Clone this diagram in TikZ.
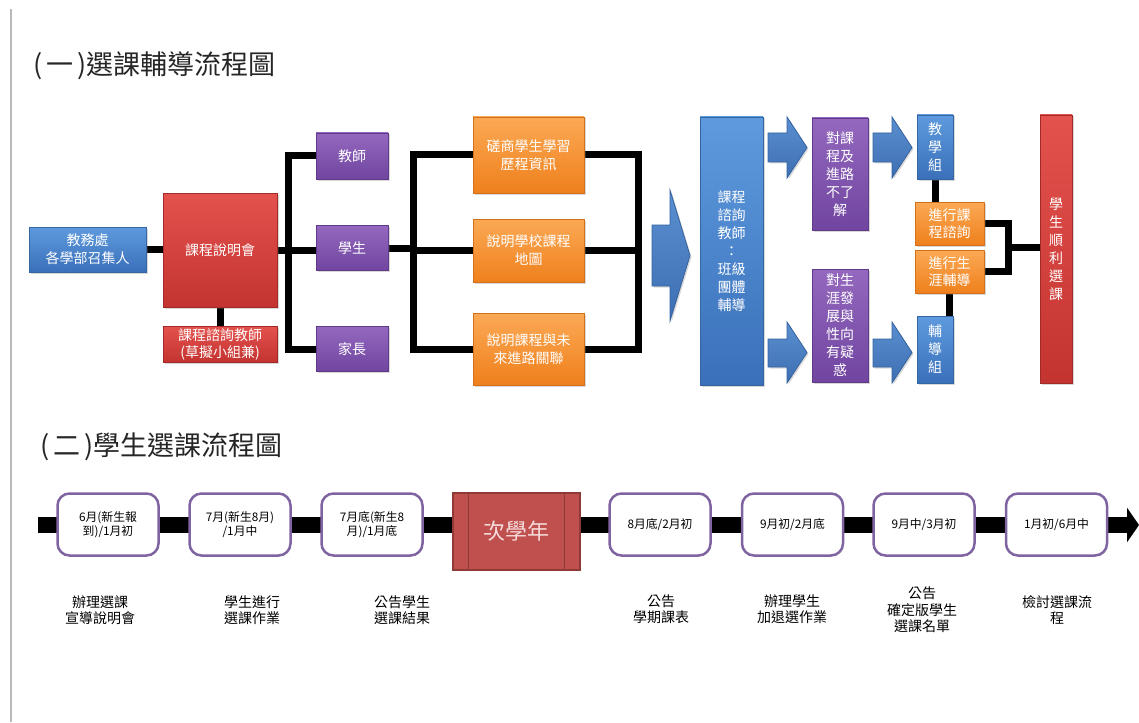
\documentclass[tikz,border=0pt]{standalone}
\usepackage{fontspec}
\setmainfont{Noto Sans CJK TC}
\usetikzlibrary{shadows,backgrounds,arrows.meta,calc}

\definecolor{blueT}{HTML}{5E9ADD}
\definecolor{blueD}{HTML}{3A70BA}
\definecolor{blueB}{HTML}{3566A4}
\definecolor{redT}{HTML}{E4524E}
\definecolor{redD}{HTML}{C3332F}
\definecolor{redB}{HTML}{A22B28}
\definecolor{purT}{HTML}{9468BE}
\definecolor{purD}{HTML}{7045A0}
\definecolor{purB}{HTML}{5F3A88}
\definecolor{orT}{HTML}{FBA955}
\definecolor{orD}{HTML}{EF801C}
\definecolor{orB}{HTML}{D2711A}
\definecolor{arrT}{HTML}{5A8FD0}
\definecolor{arrD}{HTML}{3D6FB2}
\definecolor{arrB}{HTML}{3463A0}
\definecolor{tlpur}{HTML}{8064A2}
\definecolor{nyred}{HTML}{C0504D}
\definecolor{nyB}{HTML}{8E3A37}
\definecolor{nytext}{HTML}{F6DCDC}
\definecolor{titlegray}{HTML}{262626}

\begin{document}
\begin{tikzpicture}[x=1pt,y=-1pt,
  base/.style={draw, line width=0.8pt, inner sep=0pt, outer sep=0pt, align=center,
    text=white, font=\fontsize{14}{18}\selectfont,
    drop shadow={opacity=0.3, shadow xshift=1.5pt, shadow yshift=-1.5pt}},
  bluebox/.style={base, draw=blueB, top color=blueT, bottom color=blueD},
  redbox/.style={base, draw=redB, top color=redT, bottom color=redD},
  purbox/.style={base, draw=purB, top color=purT, bottom color=purD},
  orbox/.style={base, draw=orB, top color=orT, bottom color=orD},
  blockarrow/.style={draw=arrB, line width=0.8pt, top color=arrT, bottom color=arrD,
    drop shadow={opacity=0.3, shadow xshift=1.5pt, shadow yshift=-1.5pt}},
  conn/.style={line width=7pt, black},
  titletext/.style={anchor=west, inner sep=0pt, text=titlegray, font=\fontsize{27}{30}\selectfont},
  tlbox/.style={draw=tlpur, line width=2.5pt, rounded corners=12pt, fill=white,
    minimum width=101pt, minimum height=62pt, align=center, inner sep=0pt,
    font=\fontsize{11.8}{14.5}\selectfont},
  lbl/.style={align=center, inner sep=0pt, font=\fontsize{14}{16.5}\selectfont},
  nybox/.style={draw=nyB, fill=nyred, line width=1.2pt, minimum width=127pt, minimum height=77pt,
    inner sep=0pt, text=nytext, font=\fontsize{22}{26}\selectfont}
]
\useasboundingbox (0,0) rectangle (1139,722);

% page edge line
\draw[gray!55, line width=1.5pt] (11,9) -- (11,722);

% titles
\node[titletext] (title1) at (33,66) {(\hspace{4pt}一\hspace{4pt})選課輔導流程圖};
\node[titletext] (title2) at (40,447) {(\hspace{4pt}二\hspace{4pt})學生選課流程圖};

% ---------- part 1 ----------
\node[bluebox, minimum width=117pt, minimum height=45pt] (jw) at (87.5,249.5) {教務處\\各學部召集人};
\node[redbox, minimum width=114pt, minimum height=114pt] (sm) at (220,250) {課程說明會};
\node[redbox, minimum width=114pt, minimum height=36pt, font=\fontsize{14}{17}\selectfont] (zx) at (220,344) {課程諮詢教師\\(草擬小組兼)};

\node[purbox, minimum width=72pt, minimum height=46pt] (t1) at (352,156) {教師};
\node[purbox, minimum width=72pt, minimum height=45pt] (t2) at (352,248) {學生};
\node[purbox, minimum width=72pt, minimum height=45pt] (t3) at (352,349) {家長};

\node[orbox, minimum width=111pt, minimum height=76pt] (o1) at (528.5,155) {磋商學生學習\\歷程資訊};
\node[orbox, minimum width=111pt, minimum height=63pt] (o2) at (528.5,250.5) {說明學校課程\\地圖};
\node[orbox, minimum width=111pt, minimum height=72pt] (o3) at (528.5,349) {說明課程與未\\來進路關聯};

\path[blockarrow] (652,225) -- (670,225) -- (670,190) -- (690,255.5) -- (670,321) -- (670,286) -- (652,286) -- cycle;

\node[bluebox, minimum width=63pt, minimum height=268pt] (tb) at (731.5,251) {課程\\諮詢\\教師\\：\\班級\\團體\\輔導};

\path[blockarrow] (768,133) -- (787,133) -- (787,117) -- (807,147.5) -- (787,178) -- (787,162) -- (768,162) -- cycle;
\path[blockarrow] (768,339) -- (787,339) -- (787,322) -- (807,352.5) -- (787,383) -- (787,367) -- (768,367) -- cycle;

\node[purbox, minimum width=56pt, minimum height=112pt] (p1) at (840,174) {對課\\程及\\進路\\不了\\解};
\node[purbox, minimum width=56pt, minimum height=113pt] (p2) at (840,325.5) {對生\\涯發\\展與\\性向\\有疑\\惑};

\path[blockarrow] (873,133) -- (892,133) -- (892,117) -- (912,147.5) -- (892,178) -- (892,162) -- (873,162) -- cycle;
\path[blockarrow] (873,339) -- (892,339) -- (892,322) -- (912,352.5) -- (892,383) -- (892,367) -- (873,367) -- cycle;

\node[bluebox, minimum width=36pt, minimum height=64pt] (b1) at (935,147) {教\\學\\組};
\node[bluebox, minimum width=36pt, minimum height=67pt] (b2) at (935,349.5) {輔\\導\\組};
\node[orbox, minimum width=69pt, minimum height=43pt, font=\fontsize{14}{17}\selectfont] (q1) at (949.5,223.5) {進行課\\程諮詢};
\node[orbox, minimum width=69pt, minimum height=43pt, font=\fontsize{14}{17}\selectfont] (q2) at (949.5,271.5) {進行生\\涯輔導};

\node[redbox, minimum width=32pt, minimum height=268pt] (r) at (1056,249) {學\\生\\順\\利\\選\\課};

% ---------- part 2 ----------
\coordinate (tl0) at (38,525);
\coordinate (tl1) at (1139,525);

\node[tlbox] (d1) at (108,524.5) {6月(新生報\\到)/1月初};
\node[tlbox] (d2) at (240,524.5) {7月(新生8月)\\/1月中};
\node[tlbox] (d3) at (372,524.5) {7月底(新生8\\月)/1月底};
\node[nybox] (ny) at (516.5,531.5) {次學年};
\draw[nyB, line width=1.2pt] ([xshift=16pt]ny.north west) -- ([xshift=16pt]ny.south west);
\draw[nyB, line width=1.2pt] ([xshift=-16pt]ny.north east) -- ([xshift=-16pt]ny.south east);
\node[tlbox] (d4) at (660,524.5) {8月底/2月初};
\node[tlbox] (d5) at (792.5,524.5) {9月初/2月底};
\node[tlbox] (d6) at (924,524.5) {9月中/3月初};
\node[tlbox] (d7) at (1056.5,524.5) {1月初/6月中};

\node[lbl] (l1) at (100,610) {辦理選課\\宣導說明會};
\node[lbl] (l2) at (252,610) {學生進行\\選課作業};
\node[lbl] (l3) at (402,610) {公告學生\\選課結果};
\node[lbl] (l4) at (661,609) {公告\\學期課表};
\node[lbl] (l5) at (792,609) {辦理學生\\加退選作業};
\node[lbl] (l6) at (922,610) {公告\\確定版學生\\選課名單};
\node[lbl] (l7) at (1057,610) {檢討選課流\\程};

% ---------- connectors ----------
\begin{scope}[on background layer]
  \fill[white] (0,0) rectangle (1139,722);
  \coordinate (bus1) at (288,250);
  \coordinate (bus2) at (413,250);
  \coordinate (bus3) at (638,250);
  \coordinate (bus4) at (1008,247);
  \draw[conn] (jw.east) -- (jw.east -| sm.west);
  \draw[conn] (sm.south) -- (zx.north);
  \draw[conn] (sm.east) -- (sm.east -| t2.west);
  \draw[conn] (t1.west) -| (bus1) |- (t3.west);
  \draw[conn] (t2.east) -- (t2.east -| bus2);
  \draw[conn] (o1.west) -| (bus2) |- (o3.west);
  \draw[conn] (bus2 |- o2.west) -- (o2.west);
  \draw[conn] (o1.east) -| (bus3) |- (o3.east);
  \draw[conn] (o2.east) -- (o2.east -| bus3);
  \draw[conn] (b1.south) -- (b1.south |- q1.north);
  \draw[conn] (q2.south) -- (q2.south |- b2.north);
  \draw[conn] (q1.east) -| (bus4) |- (q2.east);
  \draw[conn] (bus4) -- (bus4 -| r.west);
  \draw[line width=16pt, -{Triangle[length=12pt,width=34pt]}] (tl0) -- (tl1);
\end{scope}
\end{tikzpicture}
\end{document}
